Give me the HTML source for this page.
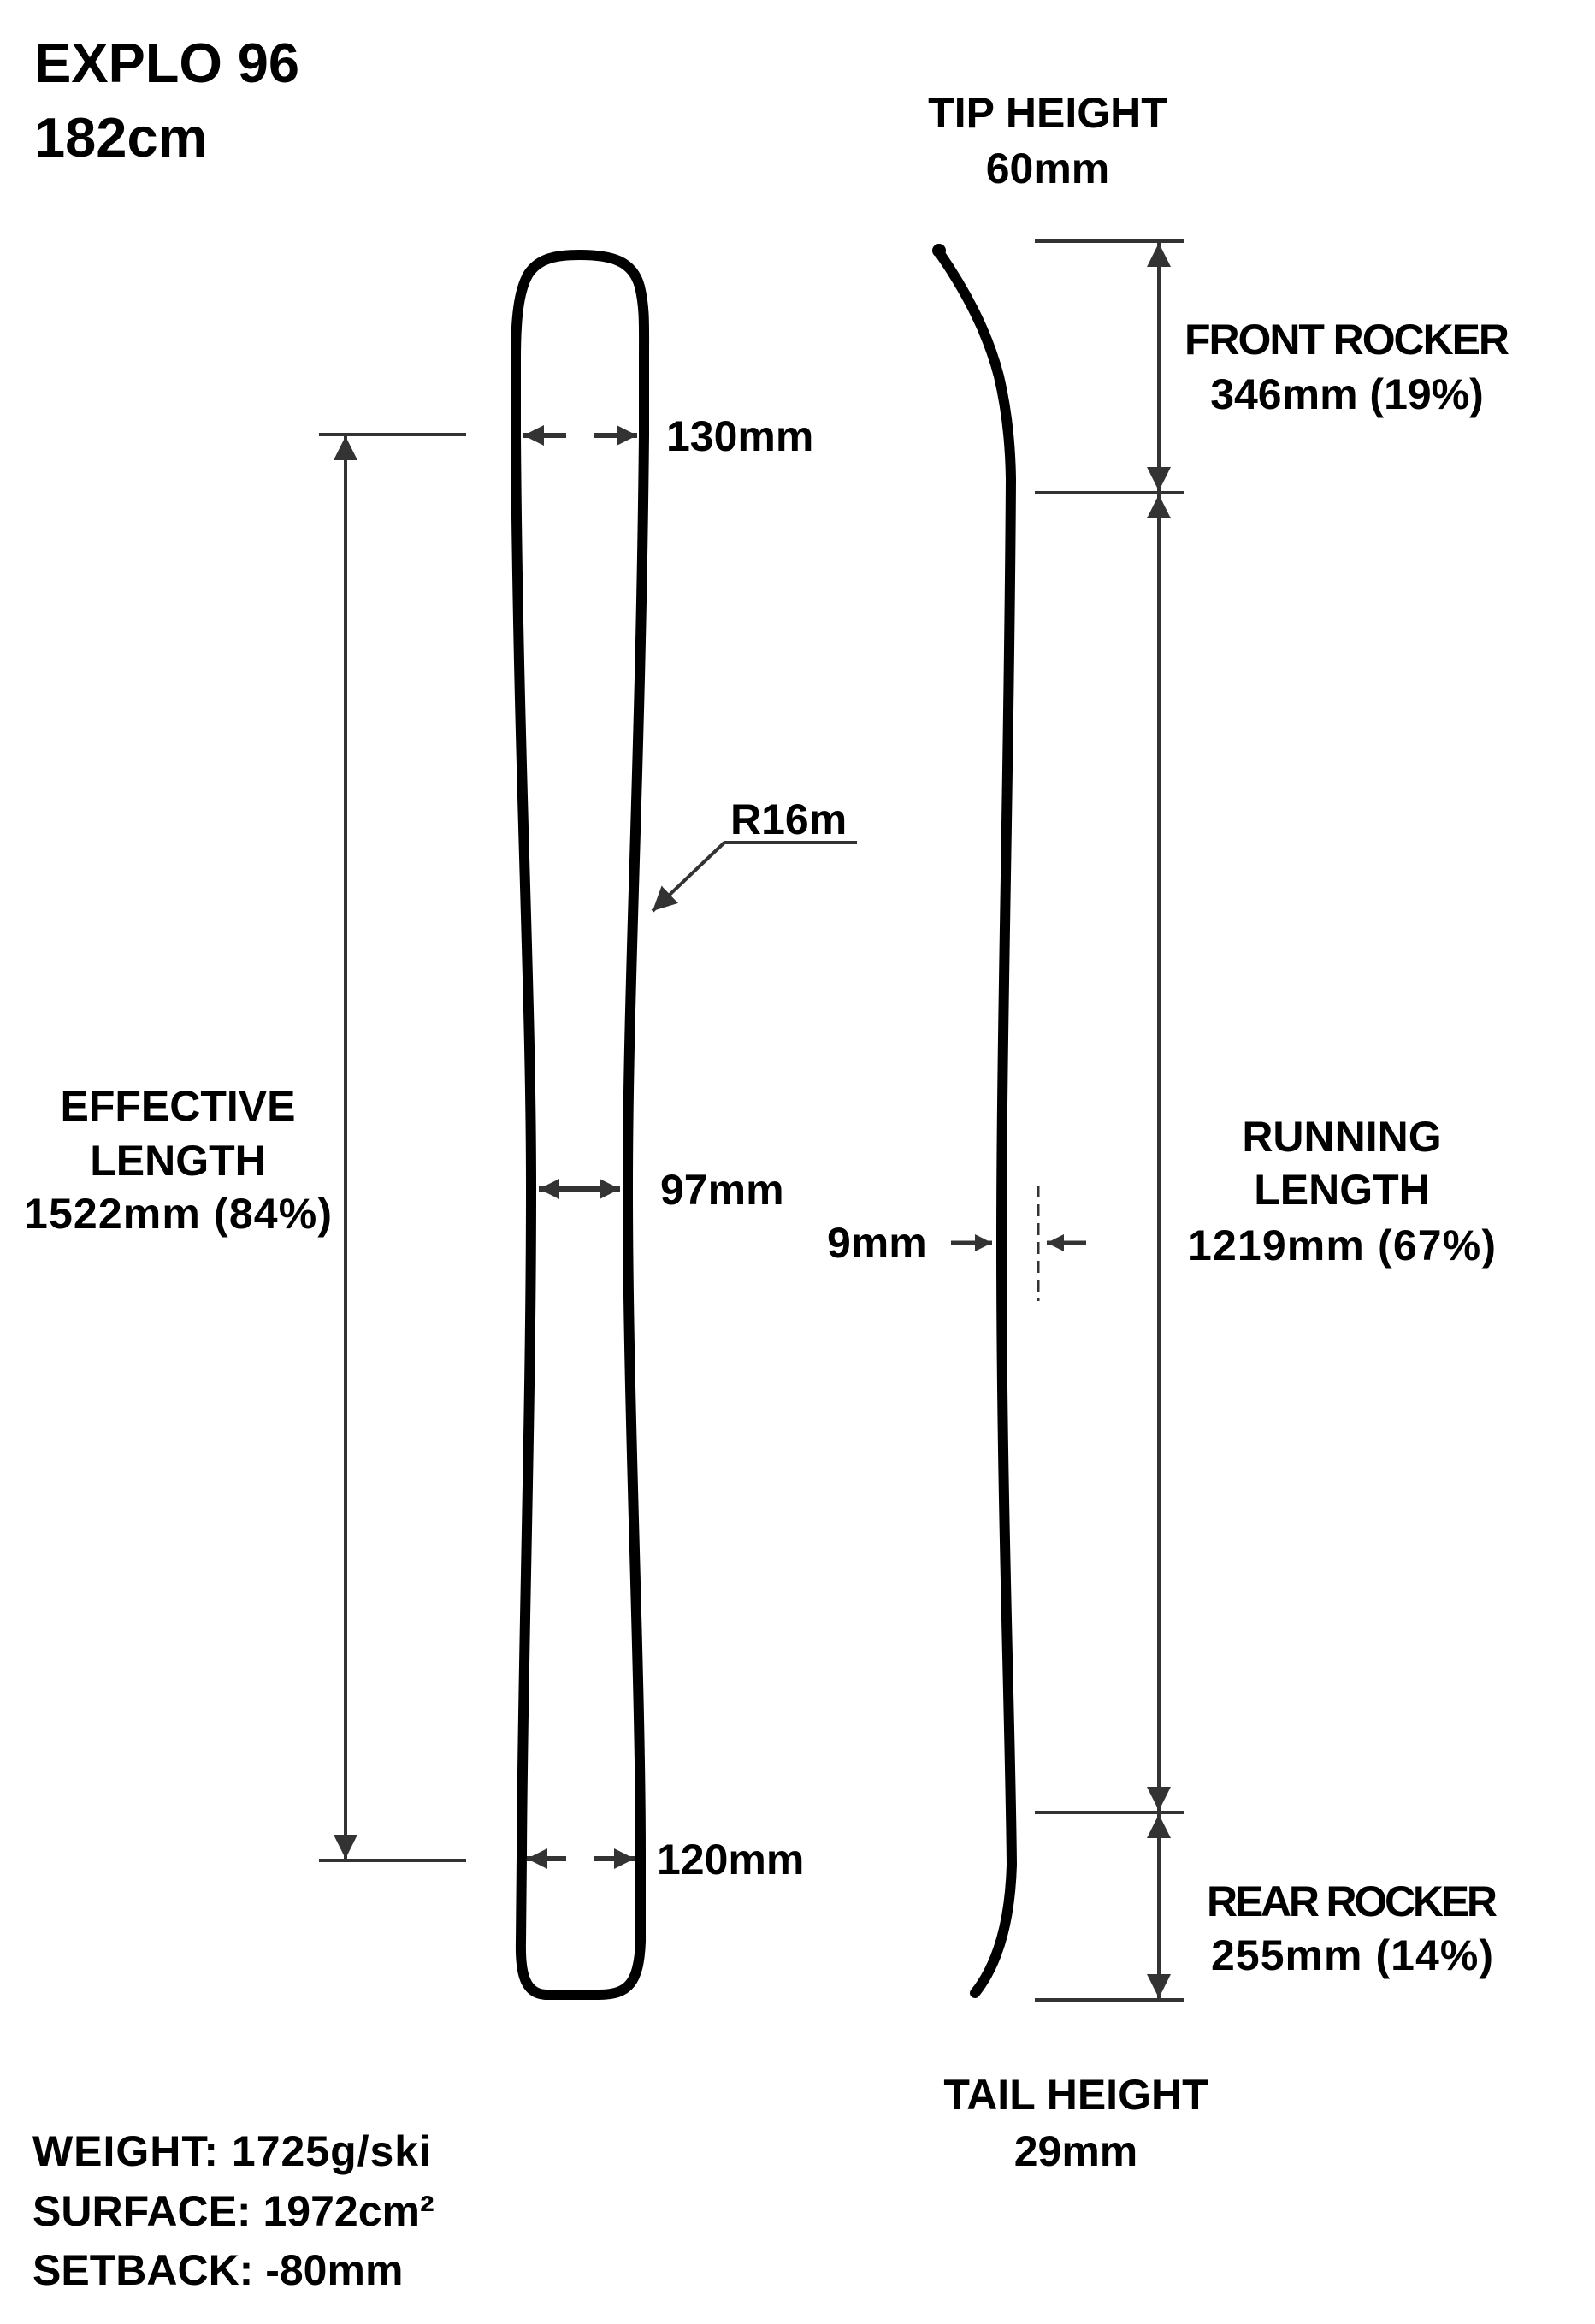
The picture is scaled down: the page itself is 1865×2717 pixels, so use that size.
<!DOCTYPE html>
<html><head><meta charset="utf-8"><style>
html,body{margin:0;padding:0;background:#fff;}
svg{display:block;}
text{font-family:"Liberation Sans",sans-serif;font-weight:bold;fill:#000;}
</style></head><body>
<svg width="1865" height="2717" viewBox="0 0 1865 2717" xmlns="http://www.w3.org/2000/svg">
<defs>
<marker id="ah" viewBox="0 0 10 10" refX="10" refY="5" markerWidth="4" markerHeight="4" orient="auto-start-reverse" markerUnits="strokeWidth">
<path d="M0,0 L10,5 L0,10 z" fill="#333"/></marker>
<marker id="big" viewBox="0 0 10 10" refX="10" refY="5" markerWidth="7" markerHeight="8.5" orient="auto-start-reverse" markerUnits="strokeWidth">
<path d="M0,0 L10,5 L0,10 z" fill="#333"/></marker>
</defs>

<!-- title -->
<text x="40" y="96" font-size="65" textLength="310">EXPLO 96</text>
<text x="40" y="183" font-size="65">182cm</text>

<!-- plan view ski -->
<path d="M678,298 C715,298 740,305 748,335 C754,360 753,380 753,420 L753,509 C749,900 734,1150 734,1390 C734,1650 749,1950 749,2170 L749,2270 C747,2318 735,2332 700,2332 L640,2332 C615,2332 608,2310 609,2270 L610,2170 C611,1950 621,1650 621,1390 C621,1150 606,900 603,509 L603,420 C603,375 606,340 618,320 C630,302 650,298 678,298 Z" fill="none" stroke="#000" stroke-width="12" stroke-linejoin="round"/>

<!-- profile ski -->
<path d="M1098,295 Q1150,370 1168,440 Q1181,495 1182,560 C1180,900 1171,1200 1171,1455 C1171,1750 1181,2000 1183,2180 Q1180,2280 1140,2330" fill="none" stroke="#000" stroke-width="12" stroke-linecap="round"/>
<circle cx="1098" cy="293" r="8" fill="#000"/>

<g stroke="#333" stroke-width="4" fill="none">
<line x1="373" y1="508" x2="545" y2="508"/>
<line x1="373" y1="2175" x2="545" y2="2175"/>
<line x1="404" y1="510" x2="404" y2="2173" marker-start="url(#big)" marker-end="url(#big)"/>
<line x1="1210" y1="282" x2="1385" y2="282"/>
<line x1="1210" y1="576" x2="1385" y2="576"/>
<line x1="1210" y1="2119" x2="1385" y2="2119"/>
<line x1="1210" y1="2338" x2="1385" y2="2338"/>
<line x1="1355" y1="284" x2="1355" y2="574" marker-start="url(#big)" marker-end="url(#big)"/>
<line x1="1355" y1="578" x2="1355" y2="2117" marker-start="url(#big)" marker-end="url(#big)"/>
<line x1="1355" y1="2121" x2="1355" y2="2336" marker-start="url(#big)" marker-end="url(#big)"/>
<line x1="662" y1="509" x2="612" y2="509" stroke-width="6" marker-end="url(#ah)"/>
<line x1="695" y1="509" x2="745" y2="509" stroke-width="6" marker-end="url(#ah)"/>
<line x1="630" y1="1390" x2="725" y2="1390" stroke-width="6" marker-start="url(#ah)" marker-end="url(#ah)"/>
<line x1="662" y1="2173" x2="616" y2="2173" stroke-width="6" marker-end="url(#ah)"/>
<line x1="695" y1="2173" x2="742" y2="2173" stroke-width="6" marker-end="url(#ah)"/>
<line x1="847" y1="985" x2="1002" y2="985"/>
<line x1="847" y1="985" x2="763" y2="1065" stroke-width="4" marker-end="url(#big)"/>
<line x1="1112" y1="1453" x2="1160" y2="1453" stroke-width="5" marker-end="url(#ah)"/>
<line x1="1214" y1="1386" x2="1214" y2="1521" stroke-width="3" stroke-dasharray="14,8"/>
<line x1="1270" y1="1453" x2="1224" y2="1453" stroke-width="5" marker-end="url(#ah)"/>
</g>

<g font-size="50">
<text x="1225" y="149" text-anchor="middle">TIP HEIGHT</text>
<text x="1225" y="214" text-anchor="middle">60mm</text>
<text x="1575" y="414" text-anchor="middle" textLength="380">FRONT ROCKER</text>
<text x="1575" y="478" text-anchor="middle">346mm (19%)</text>
<text x="779" y="527">130mm</text>
<text x="854" y="975">R16m</text>
<text x="208" y="1310" text-anchor="middle">EFFECTIVE</text>
<text x="208" y="1374" text-anchor="middle">LENGTH</text>
<text x="208" y="1436" text-anchor="middle" textLength="360">1522mm (84%)</text>
<text x="1569" y="1346" text-anchor="middle">RUNNING</text>
<text x="1569" y="1408" text-anchor="middle">LENGTH</text>
<text x="1569" y="1473" text-anchor="middle" textLength="360">1219mm (67%)</text>
<text x="772" y="1408">97mm</text>
<text x="967" y="1470">9mm</text>
<text x="768" y="2191">120mm</text>
<text x="1581" y="2240" text-anchor="middle" textLength="340">REAR ROCKER</text>
<text x="1581" y="2303" text-anchor="middle" textLength="330">255mm (14%)</text>
<text x="1258" y="2466" text-anchor="middle">TAIL HEIGHT</text>
<text x="1258" y="2532" text-anchor="middle">29mm</text>
<text x="38" y="2532" textLength="466">WEIGHT: 1725g/ski</text>
<text x="38" y="2602">SURFACE: 1972cm²</text>
<text x="38" y="2671">SETBACK: -80mm</text>
</g>
</svg>
</body></html>
